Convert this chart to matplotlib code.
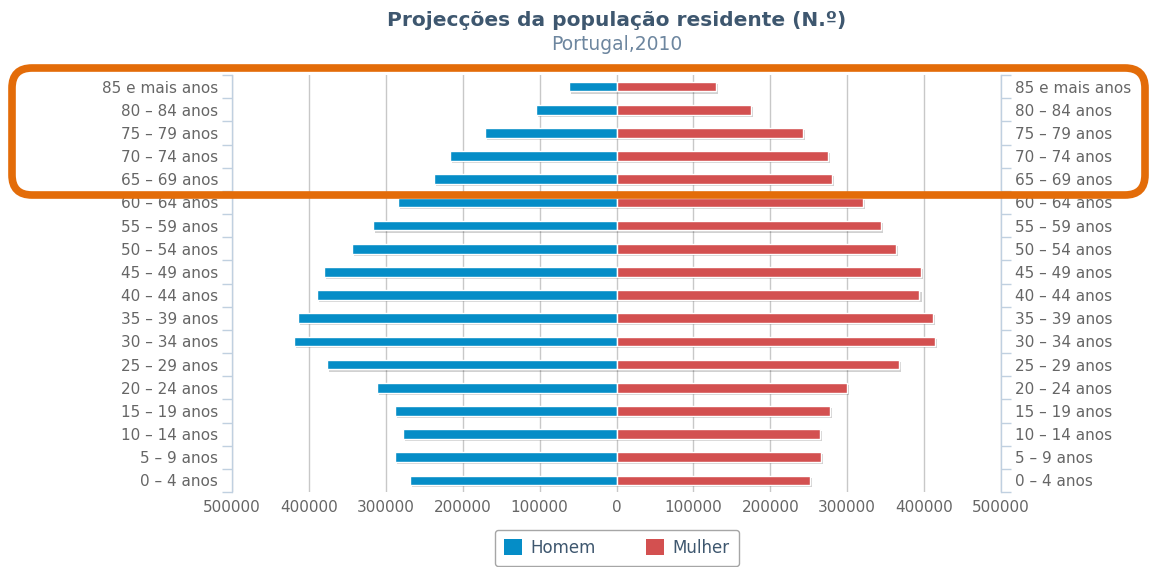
import numpy as np
import matplotlib
matplotlib.use("Agg")
import matplotlib.pyplot as plt
import matplotlib.patheffects as pe
from matplotlib.patches import Patch, FancyBboxPatch
from matplotlib.ticker import FuncFormatter, FixedLocator

# ---- data ----
AGE_GROUPS = [
    "0 – 4 anos", "5 – 9 anos", "10 – 14 anos", "15 – 19 anos",
    "20 – 24 anos", "25 – 29 anos", "30 – 34 anos", "35 – 39 anos",
    "40 – 44 anos", "45 – 49 anos", "50 – 54 anos", "55 – 59 anos",
    "60 – 64 anos", "65 – 69 anos", "70 – 74 anos", "75 – 79 anos",
    "80 – 84 anos", "85 e mais anos",
]
HOMEM = [269000, 288000, 278000, 288000, 311000, 377000, 420000, 414000,
         389000, 381000, 344000, 317000, 284000, 237000, 217000, 171000,
         105000, 62000]
MULHER = [251000, 266000, 265000, 277000, 300000, 367000, 414000, 411000,
          394000, 396000, 363000, 344000, 320000, 280000, 275000, 242000,
          175000, 129000]
X_TICKS = [-500000, -400000, -300000, -200000, -100000, 0,
           100000, 200000, 300000, 400000, 500000]

BLUE = "#058DC7"
RED = "#D35050"
AXIS_C = "#C0D0E0"
GRID_C = "#C8C8C8"
LABEL_C = "#666666"

plt.rcParams["font.family"] = ["DejaVu Sans"]

fig = plt.figure(figsize=(11.52, 5.67), dpi=100)
ax = fig.add_axes([232 / 1152, 75 / 567, 769 / 1152, 417 / 567])

y = np.arange(len(AGE_GROUPS))
shadow = [pe.SimplePatchShadow(offset=(1.5, -1.5), shadow_rgbFace="#000000", alpha=0.18),
          pe.Normal()]
bh = 0.42
bars_h = ax.barh(y, -np.array(HOMEM), height=bh, color=BLUE,
                 edgecolor="white", linewidth=1.0, zorder=3)
bars_m = ax.barh(y, np.array(MULHER), height=bh, color=RED,
                 edgecolor="white", linewidth=1.0, zorder=3)
for b in list(bars_h) + list(bars_m):
    b.set_path_effects(shadow)

ax.set_xlim(-500000, 500000)
ax.set_ylim(-0.5, len(AGE_GROUPS) - 0.5)

# x axis: absolute values on both sides of zero
ax.set_xticks(X_TICKS)
ax.xaxis.set_major_formatter(FuncFormatter(lambda v, p: f"{abs(int(v))}"))
ax.tick_params(axis="x", length=0, pad=6, labelsize=11, labelcolor=LABEL_C)
ax.grid(axis="x", color=GRID_C, linewidth=1.0, zorder=0)
ax.set_axisbelow(True)

# category labels on both sides, tick marks between categories
ax.set_yticks(y)
ax.set_yticklabels(AGE_GROUPS)
ax.yaxis.set_minor_locator(FixedLocator(np.arange(-0.5, len(AGE_GROUPS), 1.0)))
ax.tick_params(axis="y", which="major", length=0, pad=10, labelsize=11,
               labelcolor=LABEL_C, left=True, right=True,
               labelleft=True, labelright=True)
ax.tick_params(axis="y", which="minor", length=7, width=1, color=AXIS_C,
               left=True, right=True, direction="out")

for s in ("top", "bottom"):
    ax.spines[s].set_visible(False)
for s in ("left", "right"):
    ax.spines[s].set_color(AXIS_C)
    ax.spines[s].set_linewidth(1.0)

fig.text(617 / 1152, 1 - 21 / 567, "Projecções da população residente (N.º)",
         ha="center", va="center", fontsize=14.5, fontweight="bold", color="#3E576F")
fig.text(617 / 1152, 1 - 44 / 567, "Portugal,2010",
         ha="center", va="center", fontsize=13.5, color="#6D869F")

leg = fig.legend(handles=[Patch(facecolor=BLUE, label="Homem"),
                          Patch(facecolor=RED, label="Mulher")],
                 loc="center", bbox_to_anchor=(617 / 1152, 1 - 548 / 567),
                 ncol=2, frameon=True, fancybox=True, fontsize=12,
                 handlelength=1.1, handleheight=1.1, handletextpad=0.5,
                 columnspacing=3.0, borderpad=0.55, borderaxespad=0,
                 labelcolor="#3E576F")
leg.get_frame().set_edgecolor("#909090")
leg.get_frame().set_linewidth(1.0)

# orange highlight around the top five age groups
box = FancyBboxPatch((0.12, 3.72), 11.33, 1.27,
                     boxstyle="round,pad=0,rounding_size=0.2",
                     transform=fig.dpi_scale_trans, fill=False,
                     edgecolor="#E36C09", linewidth=5.5, clip_on=False, zorder=10)
fig.add_artist(box)

fig.savefig("out.png", dpi=100)
